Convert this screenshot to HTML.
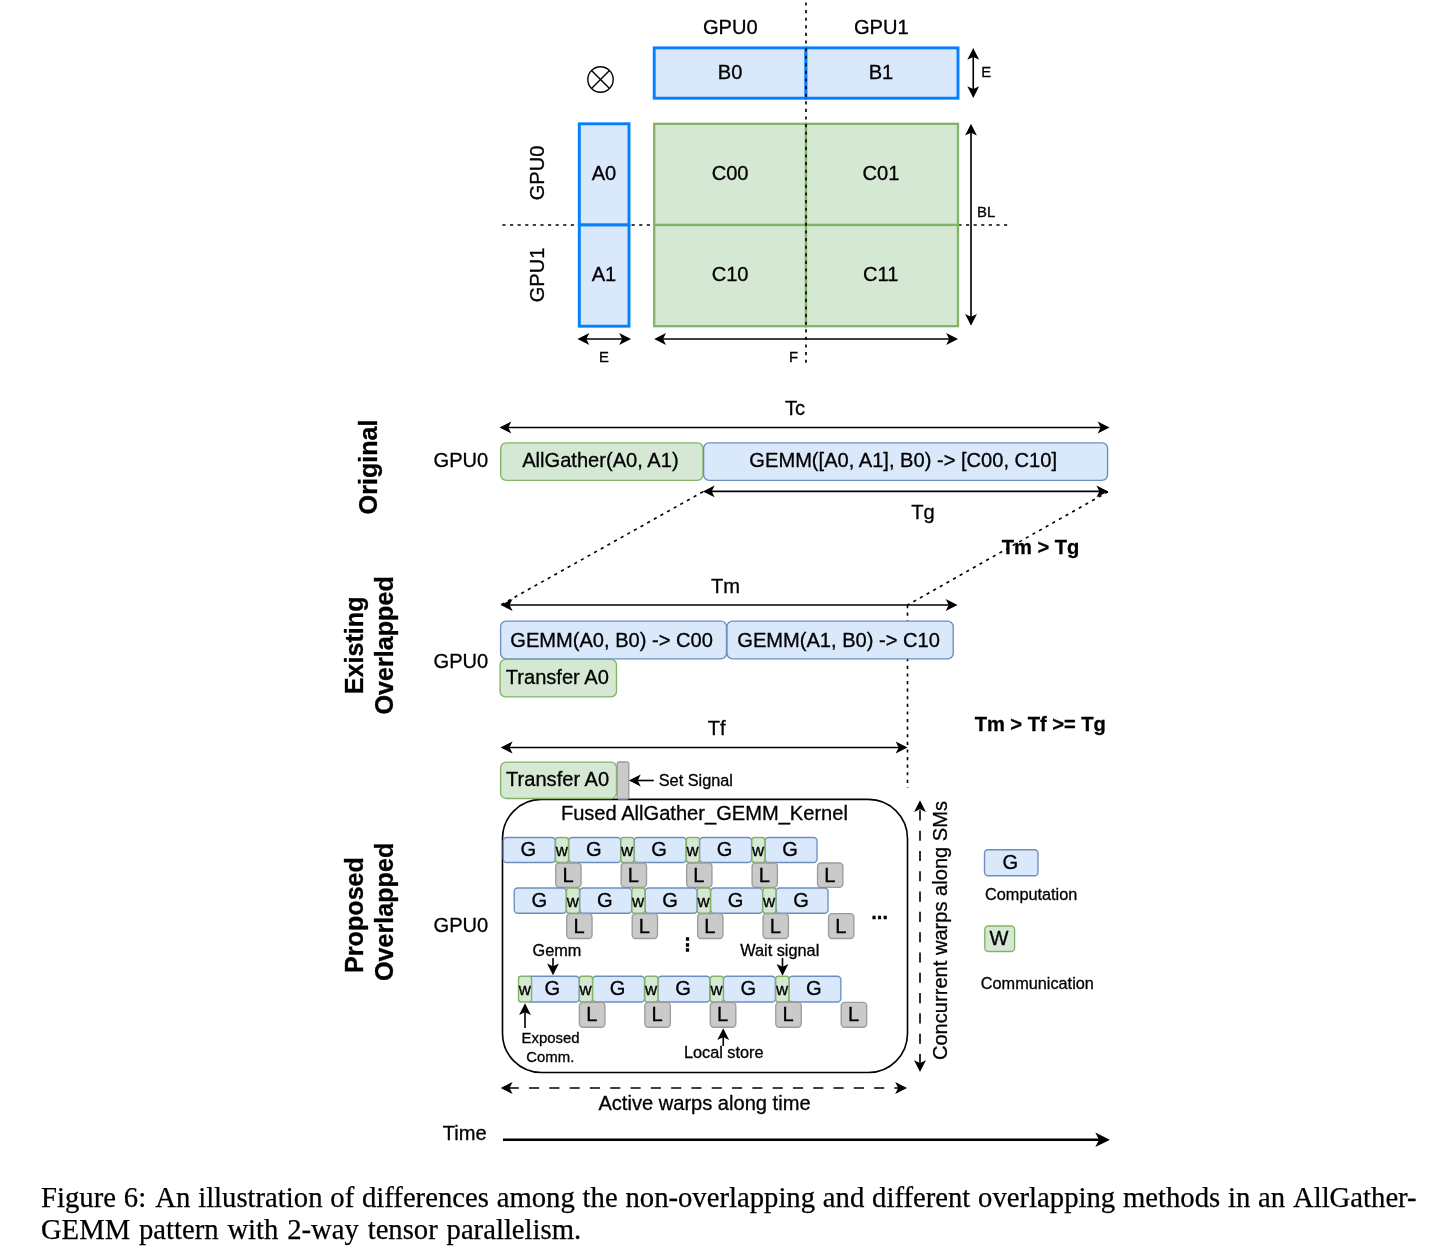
<!DOCTYPE html>
<html lang="en"><head><meta charset="utf-8"><title>Figure 6</title>
<style>
html,body{margin:0;padding:0;background:#fff;}
body{width:1452px;height:1250px;position:relative;overflow:hidden;}
svg{position:absolute;left:0;top:0;}
svg text{font-family:"Liberation Sans",Arial,Helvetica,sans-serif;fill:#000;stroke:#000;stroke-width:0.3px;}
.cap{position:absolute;white-space:nowrap;font-family:"Liberation Serif","Times New Roman",serif;font-size:28.7px;line-height:32px;color:#000;-webkit-text-stroke:0.25px #000;}
.cap span{display:inline-block;}
</style></head><body>
<svg width="1452" height="1250" viewBox="0 0 1452 1250">
<path d="M502.4 225L1007.5 225" fill="none" stroke="#000" stroke-width="1.63" stroke-dasharray="3.15 4.45"/>
<text x="730.25" y="33.7" font-size="20.1" text-anchor="middle">GPU0</text>
<text x="881.25" y="33.7" font-size="20.1" text-anchor="middle">GPU1</text>
<circle cx="600.5" cy="79.5" r="12.7" fill="#fff" stroke="#000" stroke-width="1.4"/>
<path d="M591.5197438789309 70.51974387893085L609.4802561210691 88.48025612106915" fill="none" stroke="#000" stroke-width="1.4"/>
<path d="M591.5197438789309 88.48025612106915L609.4802561210691 70.51974387893085" fill="none" stroke="#000" stroke-width="1.4"/>
<rect x="654.2" y="47.9" width="151.80" height="50.30" fill="#dae8fc" stroke="#047fff" stroke-width="2.9"/>
<rect x="806" y="47.9" width="152.00" height="50.30" fill="#dae8fc" stroke="#047fff" stroke-width="2.9"/>
<text x="730.1" y="78.75" font-size="20.1" text-anchor="middle">B0</text>
<text x="881" y="78.75" font-size="20.1" text-anchor="middle">B1</text>
<rect x="579.3" y="123.8" width="49.70" height="101.20" fill="#dae8fc" stroke="#047fff" stroke-width="2.9"/>
<rect x="579.3" y="225" width="49.70" height="101.20" fill="#dae8fc" stroke="#047fff" stroke-width="2.9"/>
<text x="604" y="180" font-size="20.1" text-anchor="middle">A0</text>
<text x="604" y="281" font-size="20.1" text-anchor="middle">A1</text>
<rect x="654.2" y="123.8" width="151.80" height="101.20" fill="#d5e8d4" stroke="#82b366" stroke-width="2.3"/>
<rect x="654.2" y="225" width="151.80" height="101.20" fill="#d5e8d4" stroke="#82b366" stroke-width="2.3"/>
<rect x="806" y="123.8" width="152.00" height="101.20" fill="#d5e8d4" stroke="#82b366" stroke-width="2.3"/>
<rect x="806" y="225" width="152.00" height="101.20" fill="#d5e8d4" stroke="#82b366" stroke-width="2.3"/>
<text x="730.1" y="180" font-size="20.1" text-anchor="middle">C00</text>
<text x="881" y="180" font-size="20.1" text-anchor="middle">C01</text>
<text x="730.1" y="281" font-size="20.1" text-anchor="middle">C10</text>
<text x="880.8" y="281" font-size="20.1" text-anchor="middle">C11</text>
<path d="M806 -5.17L806 364.5" fill="none" stroke="#000" stroke-width="1.63" stroke-dasharray="3.15 4.45"/>
<path d="M973.25 55.97L973.25 90.03" fill="none" stroke="#000" stroke-width="1.63"/><path d="M973.25 96.18L969.15 87.98L973.25 90.03L977.35 87.98Z" fill="#000" stroke="#000" stroke-width="1.63" stroke-miterlimit="10"/><path d="M973.25 49.82L977.35 58.02L973.25 55.97L969.15 58.02Z" fill="#000" stroke="#000" stroke-width="1.63" stroke-miterlimit="10"/>
<text x="986.1" y="76.8" font-size="14.9" text-anchor="middle">E</text>
<path d="M971.00 131.72L971.00 317.78" fill="none" stroke="#000" stroke-width="1.63"/><path d="M971.00 323.93L966.90 315.73L971.00 317.78L975.10 315.73Z" fill="#000" stroke="#000" stroke-width="1.63" stroke-miterlimit="10"/><path d="M971.00 125.57L975.10 133.77L971.00 131.72L966.90 133.77Z" fill="#000" stroke="#000" stroke-width="1.63" stroke-miterlimit="10"/>
<text x="986.1" y="217" font-size="14.9" text-anchor="middle">BL</text>
<path d="M585.47 339.00L623.03 339.00" fill="none" stroke="#000" stroke-width="1.63"/><path d="M629.18 339.00L620.98 343.10L623.03 339.00L620.98 334.90Z" fill="#000" stroke="#000" stroke-width="1.63" stroke-miterlimit="10"/><path d="M579.32 339.00L587.52 334.90L585.47 339.00L587.52 343.10Z" fill="#000" stroke="#000" stroke-width="1.63" stroke-miterlimit="10"/>
<text x="604" y="361.8" font-size="14.9" text-anchor="middle">E</text>
<path d="M662.17 339.00L950.03 339.00" fill="none" stroke="#000" stroke-width="1.63"/><path d="M956.18 339.00L947.98 343.10L950.03 339.00L947.98 334.90Z" fill="#000" stroke="#000" stroke-width="1.63" stroke-miterlimit="10"/><path d="M656.02 339.00L664.22 334.90L662.17 339.00L664.22 343.10Z" fill="#000" stroke="#000" stroke-width="1.63" stroke-miterlimit="10"/>
<text x="793.5" y="361.8" font-size="14.9" text-anchor="middle">F</text>
<text x="543.8" y="172.9" font-size="20.1" text-anchor="middle" transform="rotate(-90 543.8 172.9)">GPU0</text>
<text x="543.8" y="275" font-size="20.1" text-anchor="middle" transform="rotate(-90 543.8 275)">GPU1</text>
<text x="795" y="415" font-size="20.1" text-anchor="middle">Tc</text>
<path d="M507.47 427.50L1101.53 427.50" fill="none" stroke="#000" stroke-width="1.63"/><path d="M1107.68 427.50L1099.48 431.60L1101.53 427.50L1099.48 423.40Z" fill="#000" stroke="#000" stroke-width="1.63" stroke-miterlimit="10"/><path d="M501.32 427.50L509.52 423.40L507.47 427.50L509.52 431.60Z" fill="#000" stroke="#000" stroke-width="1.63" stroke-miterlimit="10"/>
<text x="460.9" y="467.4" font-size="20.1" text-anchor="middle">GPU0</text>
<rect x="500.7" y="442.9" width="202.30" height="37.40" rx="5.5" ry="5.5" fill="#d5e8d4" stroke="#82b366" stroke-width="1.35"/>
<rect x="703.6" y="442.9" width="404.00" height="37.40" rx="5.5" ry="5.5" fill="#dae8fc" stroke="#6c8ebf" stroke-width="1.35"/>
<text x="600.4" y="467.1" font-size="20.1" text-anchor="middle">AllGather(A0, A1)</text>
<text x="903.2" y="467.1" font-size="20.1" text-anchor="middle">GEMM([A0, A1], B0) -&gt; [C00, C10]</text>
<path d="M710.77 491.40L1100.33 491.40" fill="none" stroke="#000" stroke-width="1.63"/><path d="M1106.48 491.40L1098.28 495.50L1100.33 491.40L1098.28 487.30Z" fill="#000" stroke="#000" stroke-width="1.63" stroke-miterlimit="10"/><path d="M704.62 491.40L712.82 487.30L710.77 491.40L712.82 495.50Z" fill="#000" stroke="#000" stroke-width="1.63" stroke-miterlimit="10"/>
<text x="923" y="518.75" font-size="20.1" text-anchor="middle">Tg</text>
<text x="377.5" y="466.9" font-size="25.15" text-anchor="middle" font-weight="bold" transform="rotate(-90 377.5 466.9)">Original</text>
<path d="M703 491.75L500.75 605" fill="none" stroke="#000" stroke-width="1.63" stroke-dasharray="3.15 4.45"/>
<path d="M1108 491.75L907.5 605" fill="none" stroke="#000" stroke-width="1.63" stroke-dasharray="3.15 4.45"/>
<text x="1040.5" y="553.5" font-size="20.1" text-anchor="middle" font-weight="bold">Tm &gt; Tg</text>
<path d="M907.5 605L907.5 788" fill="none" stroke="#000" stroke-width="1.63" stroke-dasharray="3.15 4.45"/>
<text x="725.5" y="592.5" font-size="20.1" text-anchor="middle">Tm</text>
<path d="M508.72 605.00L949.53 605.00" fill="none" stroke="#000" stroke-width="1.63"/><path d="M955.68 605.00L947.48 609.10L949.53 605.00L947.48 600.90Z" fill="#000" stroke="#000" stroke-width="1.63" stroke-miterlimit="10"/><path d="M502.57 605.00L510.77 600.90L508.72 605.00L510.77 609.10Z" fill="#000" stroke="#000" stroke-width="1.63" stroke-miterlimit="10"/>
<rect x="500.6" y="621.1" width="225.90" height="37.70" rx="5.5" ry="5.5" fill="#dae8fc" stroke="#6c8ebf" stroke-width="1.35"/>
<rect x="727.0" y="621.1" width="226.20" height="37.70" rx="5.5" ry="5.5" fill="#dae8fc" stroke="#6c8ebf" stroke-width="1.35"/>
<rect x="500.1" y="659.3" width="116.40" height="37.60" rx="5.5" ry="5.5" fill="#d5e8d4" stroke="#82b366" stroke-width="1.35"/>
<text x="611.6" y="646.6" font-size="20.1" text-anchor="middle">GEMM(A0, B0) -&gt; C00</text>
<text x="838.6" y="646.6" font-size="20.1" text-anchor="middle">GEMM(A1, B0) -&gt; C10</text>
<text x="557.3" y="683.5" font-size="20.1" text-anchor="middle">Transfer A0</text>
<text x="460.9" y="667.8" font-size="20.1" text-anchor="middle">GPU0</text>
<text x="363.0" y="645.4" font-size="25.15" text-anchor="middle" font-weight="bold" transform="rotate(-90 363.0 645.4)">Existing</text>
<text x="393.2" y="645.4" font-size="25.15" text-anchor="middle" font-weight="bold" transform="rotate(-90 393.2 645.4)">Overlapped</text>
<text x="1040.25" y="730.75" font-size="20.1" text-anchor="middle" font-weight="bold">Tm &gt; Tf &gt;= Tg</text>
<text x="716.75" y="735.4" font-size="20.1" text-anchor="middle">Tf</text>
<path d="M508.72 747.50L899.53 747.50" fill="none" stroke="#000" stroke-width="1.63"/><path d="M905.68 747.50L897.48 751.60L899.53 747.50L897.48 743.40Z" fill="#000" stroke="#000" stroke-width="1.63" stroke-miterlimit="10"/><path d="M502.57 747.50L510.77 743.40L508.72 747.50L510.77 751.60Z" fill="#000" stroke="#000" stroke-width="1.63" stroke-miterlimit="10"/>
<rect x="502.5" y="799.4" width="405.00" height="273.10" rx="39" ry="39" fill="#fff" stroke="#000" stroke-width="1.63"/>
<rect x="500.6" y="762.1" width="115.90" height="36.40" rx="5.5" ry="5.5" fill="#d5e8d4" stroke="#82b366" stroke-width="1.35"/>
<rect x="617.2" y="762.0" width="11.60" height="37.00" rx="2" ry="2" fill="#cacaca" stroke="#9c9c9c" stroke-width="1.35"/>
<text x="557.6" y="785.7" font-size="20.1" text-anchor="middle">Transfer A0</text>
<path d="M653.75 780.50L636.87 780.50" fill="none" stroke="#000" stroke-width="1.63"/><path d="M630.72 780.50L638.92 776.40L636.87 780.50L638.92 784.60Z" fill="#000" stroke="#000" stroke-width="1.63" stroke-miterlimit="10"/>
<text x="658.75" y="786.25" font-size="16.3" text-anchor="start">Set Signal</text>
<text x="704.4" y="820" font-size="20.1" text-anchor="middle">Fused AllGather_GEMM_Kernel</text>
<rect x="503.25" y="837.5" width="52.00" height="25.00" rx="3.5" ry="3.5" fill="#dae8fc" stroke="#6c8ebf" stroke-width="1.35"/>
<text x="528.25" y="855.9" font-size="20.1" text-anchor="middle">G</text>
<rect x="568.7" y="837.5" width="52.00" height="25.00" rx="3.5" ry="3.5" fill="#dae8fc" stroke="#6c8ebf" stroke-width="1.35"/>
<text x="593.7" y="855.9" font-size="20.1" text-anchor="middle">G</text>
<rect x="634.15" y="837.5" width="52.00" height="25.00" rx="3.5" ry="3.5" fill="#dae8fc" stroke="#6c8ebf" stroke-width="1.35"/>
<text x="659.15" y="855.9" font-size="20.1" text-anchor="middle">G</text>
<rect x="699.6" y="837.5" width="52.00" height="25.00" rx="3.5" ry="3.5" fill="#dae8fc" stroke="#6c8ebf" stroke-width="1.35"/>
<text x="724.6" y="855.9" font-size="20.1" text-anchor="middle">G</text>
<rect x="765.05" y="837.5" width="52.00" height="25.00" rx="3.5" ry="3.5" fill="#dae8fc" stroke="#6c8ebf" stroke-width="1.35"/>
<text x="790.05" y="855.9" font-size="20.1" text-anchor="middle">G</text>
<rect x="555.5" y="837.5" width="13.00" height="25.00" rx="2.5" ry="2.5" fill="#d5e8d4" stroke="#82b366" stroke-width="1.35"/>
<text x="561.7" y="856.0" font-size="16.8" text-anchor="middle">w</text>
<rect x="620.95" y="837.5" width="13.00" height="25.00" rx="2.5" ry="2.5" fill="#d5e8d4" stroke="#82b366" stroke-width="1.35"/>
<text x="627.1500000000001" y="856.0" font-size="16.8" text-anchor="middle">w</text>
<rect x="686.4" y="837.5" width="13.00" height="25.00" rx="2.5" ry="2.5" fill="#d5e8d4" stroke="#82b366" stroke-width="1.35"/>
<text x="692.6" y="856.0" font-size="16.8" text-anchor="middle">w</text>
<rect x="751.85" y="837.5" width="13.00" height="25.00" rx="2.5" ry="2.5" fill="#d5e8d4" stroke="#82b366" stroke-width="1.35"/>
<text x="758.0500000000001" y="856.0" font-size="16.8" text-anchor="middle">w</text>
<rect x="555.75" y="863" width="25.30" height="24.30" rx="3.5" ry="3.5" fill="#cacaca" stroke="#9c9c9c" stroke-width="1.35"/>
<text x="568.0" y="881.75" font-size="20.1" text-anchor="middle">L</text>
<rect x="621.2" y="863" width="25.30" height="24.30" rx="3.5" ry="3.5" fill="#cacaca" stroke="#9c9c9c" stroke-width="1.35"/>
<text x="633.45" y="881.75" font-size="20.1" text-anchor="middle">L</text>
<rect x="686.65" y="863" width="25.30" height="24.30" rx="3.5" ry="3.5" fill="#cacaca" stroke="#9c9c9c" stroke-width="1.35"/>
<text x="698.9" y="881.75" font-size="20.1" text-anchor="middle">L</text>
<rect x="752.1" y="863" width="25.30" height="24.30" rx="3.5" ry="3.5" fill="#cacaca" stroke="#9c9c9c" stroke-width="1.35"/>
<text x="764.35" y="881.75" font-size="20.1" text-anchor="middle">L</text>
<rect x="817.55" y="863" width="25.30" height="24.30" rx="3.5" ry="3.5" fill="#cacaca" stroke="#9c9c9c" stroke-width="1.35"/>
<text x="829.8" y="881.75" font-size="20.1" text-anchor="middle">L</text>
<rect x="514.25" y="888" width="52.00" height="25.25" rx="3.5" ry="3.5" fill="#dae8fc" stroke="#6c8ebf" stroke-width="1.35"/>
<text x="539.25" y="906.525" font-size="20.1" text-anchor="middle">G</text>
<rect x="579.7" y="888" width="52.00" height="25.25" rx="3.5" ry="3.5" fill="#dae8fc" stroke="#6c8ebf" stroke-width="1.35"/>
<text x="604.7" y="906.525" font-size="20.1" text-anchor="middle">G</text>
<rect x="645.15" y="888" width="52.00" height="25.25" rx="3.5" ry="3.5" fill="#dae8fc" stroke="#6c8ebf" stroke-width="1.35"/>
<text x="670.15" y="906.525" font-size="20.1" text-anchor="middle">G</text>
<rect x="710.6" y="888" width="52.00" height="25.25" rx="3.5" ry="3.5" fill="#dae8fc" stroke="#6c8ebf" stroke-width="1.35"/>
<text x="735.6" y="906.525" font-size="20.1" text-anchor="middle">G</text>
<rect x="776.05" y="888" width="52.00" height="25.25" rx="3.5" ry="3.5" fill="#dae8fc" stroke="#6c8ebf" stroke-width="1.35"/>
<text x="801.05" y="906.525" font-size="20.1" text-anchor="middle">G</text>
<rect x="566.5" y="888" width="13.00" height="25.25" rx="2.5" ry="2.5" fill="#d5e8d4" stroke="#82b366" stroke-width="1.35"/>
<text x="572.7" y="906.625" font-size="16.8" text-anchor="middle">w</text>
<rect x="631.95" y="888" width="13.00" height="25.25" rx="2.5" ry="2.5" fill="#d5e8d4" stroke="#82b366" stroke-width="1.35"/>
<text x="638.1500000000001" y="906.625" font-size="16.8" text-anchor="middle">w</text>
<rect x="697.4" y="888" width="13.00" height="25.25" rx="2.5" ry="2.5" fill="#d5e8d4" stroke="#82b366" stroke-width="1.35"/>
<text x="703.6" y="906.625" font-size="16.8" text-anchor="middle">w</text>
<rect x="762.85" y="888" width="13.00" height="25.25" rx="2.5" ry="2.5" fill="#d5e8d4" stroke="#82b366" stroke-width="1.35"/>
<text x="769.0500000000001" y="906.625" font-size="16.8" text-anchor="middle">w</text>
<rect x="566.75" y="913.6" width="25.30" height="24.90" rx="3.5" ry="3.5" fill="#cacaca" stroke="#9c9c9c" stroke-width="1.35"/>
<text x="579.0" y="932.65" font-size="20.1" text-anchor="middle">L</text>
<rect x="632.2" y="913.6" width="25.30" height="24.90" rx="3.5" ry="3.5" fill="#cacaca" stroke="#9c9c9c" stroke-width="1.35"/>
<text x="644.45" y="932.65" font-size="20.1" text-anchor="middle">L</text>
<rect x="697.65" y="913.6" width="25.30" height="24.90" rx="3.5" ry="3.5" fill="#cacaca" stroke="#9c9c9c" stroke-width="1.35"/>
<text x="709.9" y="932.65" font-size="20.1" text-anchor="middle">L</text>
<rect x="763.1" y="913.6" width="25.30" height="24.90" rx="3.5" ry="3.5" fill="#cacaca" stroke="#9c9c9c" stroke-width="1.35"/>
<text x="775.35" y="932.65" font-size="20.1" text-anchor="middle">L</text>
<rect x="828.55" y="913.6" width="25.30" height="24.90" rx="3.5" ry="3.5" fill="#cacaca" stroke="#9c9c9c" stroke-width="1.35"/>
<text x="840.8" y="932.65" font-size="20.1" text-anchor="middle">L</text>
<rect x="527.25" y="976.25" width="52.00" height="25.75" rx="3.5" ry="3.5" fill="#dae8fc" stroke="#6c8ebf" stroke-width="1.35"/>
<text x="552.25" y="995.025" font-size="20.1" text-anchor="middle">G</text>
<rect x="592.5" y="976.25" width="52.00" height="25.75" rx="3.5" ry="3.5" fill="#dae8fc" stroke="#6c8ebf" stroke-width="1.35"/>
<text x="617.5" y="995.025" font-size="20.1" text-anchor="middle">G</text>
<rect x="657.95" y="976.25" width="52.00" height="25.75" rx="3.5" ry="3.5" fill="#dae8fc" stroke="#6c8ebf" stroke-width="1.35"/>
<text x="682.95" y="995.025" font-size="20.1" text-anchor="middle">G</text>
<rect x="723.4" y="976.25" width="52.00" height="25.75" rx="3.5" ry="3.5" fill="#dae8fc" stroke="#6c8ebf" stroke-width="1.35"/>
<text x="748.4" y="995.025" font-size="20.1" text-anchor="middle">G</text>
<rect x="788.85" y="976.25" width="52.00" height="25.75" rx="3.5" ry="3.5" fill="#dae8fc" stroke="#6c8ebf" stroke-width="1.35"/>
<text x="813.85" y="995.025" font-size="20.1" text-anchor="middle">G</text>
<rect x="518.5" y="976.25" width="13.10" height="25.75" rx="2.5" ry="2.5" fill="#d5e8d4" stroke="#82b366" stroke-width="1.35"/>
<text x="524.75" y="995.125" font-size="16.8" text-anchor="middle">w</text>
<rect x="579.4" y="976.25" width="13.10" height="25.75" rx="2.5" ry="2.5" fill="#d5e8d4" stroke="#82b366" stroke-width="1.35"/>
<text x="585.6500000000001" y="995.125" font-size="16.8" text-anchor="middle">w</text>
<rect x="644.85" y="976.25" width="13.10" height="25.75" rx="2.5" ry="2.5" fill="#d5e8d4" stroke="#82b366" stroke-width="1.35"/>
<text x="651.1000000000001" y="995.125" font-size="16.8" text-anchor="middle">w</text>
<rect x="710.3" y="976.25" width="13.10" height="25.75" rx="2.5" ry="2.5" fill="#d5e8d4" stroke="#82b366" stroke-width="1.35"/>
<text x="716.55" y="995.125" font-size="16.8" text-anchor="middle">w</text>
<rect x="775.75" y="976.25" width="13.10" height="25.75" rx="2.5" ry="2.5" fill="#d5e8d4" stroke="#82b366" stroke-width="1.35"/>
<text x="782.0" y="995.125" font-size="16.8" text-anchor="middle">w</text>
<rect x="579.4" y="1002.4" width="25.50" height="24.80" rx="3.5" ry="3.5" fill="#cacaca" stroke="#9c9c9c" stroke-width="1.35"/>
<text x="591.75" y="1021.4" font-size="20.1" text-anchor="middle">L</text>
<rect x="644.85" y="1002.4" width="25.50" height="24.80" rx="3.5" ry="3.5" fill="#cacaca" stroke="#9c9c9c" stroke-width="1.35"/>
<text x="657.2" y="1021.4" font-size="20.1" text-anchor="middle">L</text>
<rect x="710.3" y="1002.4" width="25.50" height="24.80" rx="3.5" ry="3.5" fill="#cacaca" stroke="#9c9c9c" stroke-width="1.35"/>
<text x="722.65" y="1021.4" font-size="20.1" text-anchor="middle">L</text>
<rect x="775.75" y="1002.4" width="25.50" height="24.80" rx="3.5" ry="3.5" fill="#cacaca" stroke="#9c9c9c" stroke-width="1.35"/>
<text x="788.1" y="1021.4" font-size="20.1" text-anchor="middle">L</text>
<rect x="841.2" y="1002.4" width="25.50" height="24.80" rx="3.5" ry="3.5" fill="#cacaca" stroke="#9c9c9c" stroke-width="1.35"/>
<text x="853.5500000000001" y="1021.4" font-size="20.1" text-anchor="middle">L</text>
<text x="879.6" y="918.8" font-size="20.1" text-anchor="middle" font-weight="bold">...</text>
<text x="687.1" y="948.8" font-size="15.4" text-anchor="middle" font-weight="bold" style="stroke-width:1.1px">⋮</text>
<text x="556.9" y="955.7" font-size="16.3" text-anchor="middle">Gemm</text>
<path d="M553.00 958.00L553.00 967.33" fill="none" stroke="#000" stroke-width="1.63"/><path d="M553.00 973.48L548.90 965.28L553.00 967.33L557.10 965.28Z" fill="#000" stroke="#000" stroke-width="1.63" stroke-miterlimit="10"/>
<text x="779.75" y="955.7" font-size="16.3" text-anchor="middle">Wait signal</text>
<path d="M782.50 958.00L782.50 967.78" fill="none" stroke="#000" stroke-width="1.63"/><path d="M782.50 973.93L778.40 965.73L782.50 967.78L786.60 965.73Z" fill="#000" stroke="#000" stroke-width="1.63" stroke-miterlimit="10"/>
<path d="M525.00 1028.00L525.00 1011.22" fill="none" stroke="#000" stroke-width="1.63"/><path d="M525.00 1005.07L529.10 1013.27L525.00 1011.22L520.90 1013.27Z" fill="#000" stroke="#000" stroke-width="1.63" stroke-miterlimit="10"/>
<text x="550.6" y="1043" font-size="14.9" text-anchor="middle">Exposed</text>
<text x="550.3" y="1061.8" font-size="14.9" text-anchor="middle">Comm.</text>
<path d="M723.25 1046.00L723.25 1036.22" fill="none" stroke="#000" stroke-width="1.63"/><path d="M723.25 1030.07L727.35 1038.27L723.25 1036.22L719.15 1038.27Z" fill="#000" stroke="#000" stroke-width="1.63" stroke-miterlimit="10"/>
<text x="723.75" y="1058.25" font-size="16.3" text-anchor="middle">Local store</text>
<text x="460.9" y="932.0" font-size="20.1" text-anchor="middle">GPU0</text>
<text x="363.0" y="915" font-size="25.15" text-anchor="middle" font-weight="bold" transform="rotate(-90 363.0 915)">Proposed</text>
<text x="393.2" y="911.9" font-size="25.15" text-anchor="middle" font-weight="bold" transform="rotate(-90 393.2 911.9)">Overlapped</text>
<path d="M920.00 1064.03L920.00 808.17" fill="none" stroke="#000" stroke-width="1.63" stroke-dasharray="10.1 10.2"/><path d="M920.00 802.02L924.10 810.22L920.00 808.17L915.90 810.22Z" fill="#000" stroke="#000" stroke-width="1.63" stroke-miterlimit="10"/><path d="M920.00 1070.18L915.90 1061.98L920.00 1064.03L924.10 1061.98Z" fill="#000" stroke="#000" stroke-width="1.63" stroke-miterlimit="10"/>
<text x="946.5" y="930.5" font-size="20.1" text-anchor="middle" transform="rotate(-90 946.5 930.5)">Concurrent warps along SMs</text>
<rect x="984.5" y="849.75" width="53.50" height="26.00" rx="3.5" ry="3.5" fill="#dae8fc" stroke="#6c8ebf" stroke-width="1.35"/>
<text x="1010.25" y="868.65" font-size="20.1" text-anchor="middle">G</text>
<text x="985" y="900.3" font-size="16.3" text-anchor="start">Computation</text>
<rect x="984.8" y="926.0" width="29.80" height="25.50" rx="3.5" ry="3.5" fill="#d5e8d4" stroke="#82b366" stroke-width="1.35"/>
<text x="999.0" y="944.7" font-size="20.1" text-anchor="middle">W</text>
<text x="980.75" y="988.6" font-size="16.3" text-anchor="start">Communication</text>
<path d="M508.72 1088.00L899.03 1088.00" fill="none" stroke="#000" stroke-width="1.63" stroke-dasharray="10.1 10.2"/><path d="M905.18 1088.00L896.98 1092.10L899.03 1088.00L896.98 1083.90Z" fill="#000" stroke="#000" stroke-width="1.63" stroke-miterlimit="10"/><path d="M502.57 1088.00L510.77 1083.90L508.72 1088.00L510.77 1092.10Z" fill="#000" stroke="#000" stroke-width="1.63" stroke-miterlimit="10"/>
<text x="704.5" y="1110" font-size="20.1" text-anchor="middle">Active warps along time</text>
<text x="464.75" y="1140" font-size="20.1" text-anchor="middle">Time</text>
<path d="M503.00 1139.80L1100.31 1139.80" fill="none" stroke="#000" stroke-width="2.45"/><path d="M1107.06 1139.80L1098.06 1144.30L1100.31 1139.80L1098.06 1135.30Z" fill="#000" stroke="#000" stroke-width="2.45" stroke-miterlimit="10"/>
</svg>
<div class="cap" id="c1" style="left:41.1px;top:1180.9px;word-spacing:0.62px;"><span>Figure</span> <span style="margin-right:1.4px">6:</span> <span>An</span> <span>illustration</span> <span>of</span> <span>differences</span> <span>among</span> <span>the</span> <span>non-overlapping</span> <span>and</span> <span>different</span> <span>overlapping</span> <span>methods</span> <span>in</span> <span>an</span> <span>AllGather-</span></div>
<div class="cap" id="c2" style="left:40.9px;top:1213.2px;word-spacing:1.6px;"><span>GEMM</span> <span>pattern</span> <span>with</span> <span>2-way</span> <span>tensor</span> <span>parallelism.</span></div>
</body></html>
